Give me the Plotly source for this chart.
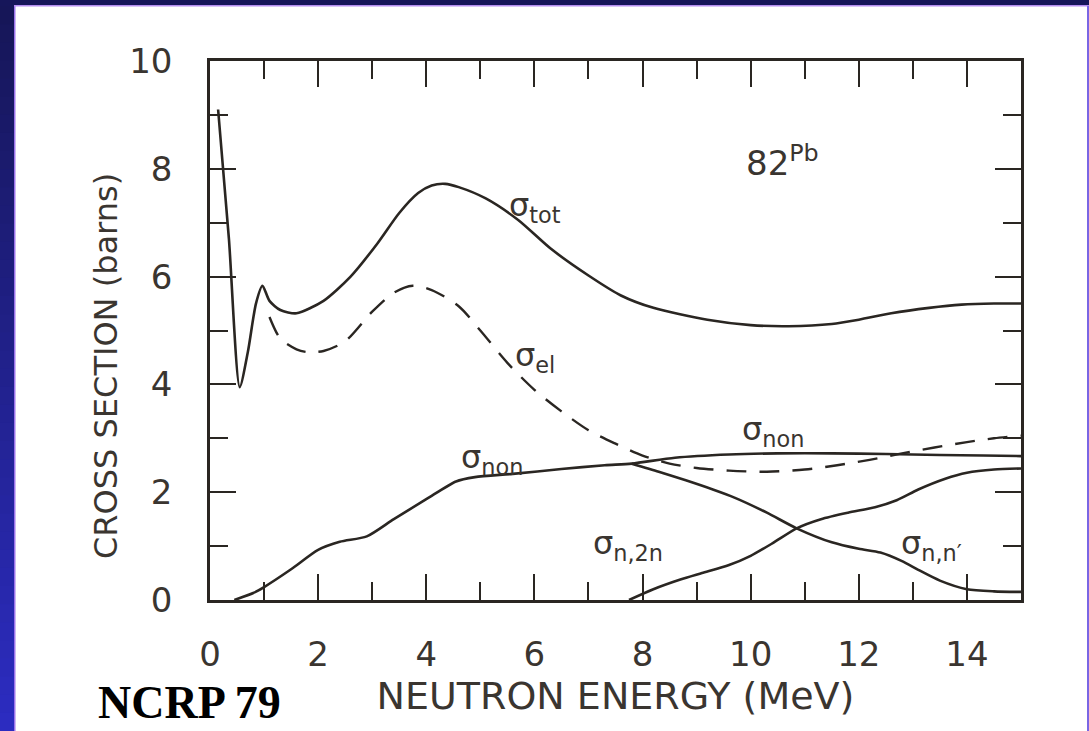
import plotly.graph_objects as go

# Neutron cross sections of lead (82Pb) versus neutron energy
energy_tot = [0.15, 0.35, 0.55, 0.7, 0.85, 0.97, 1.1, 1.3, 1.6, 2.1, 2.6, 3.1, 3.5, 3.85, 4.1, 4.35,
              4.6, 5.1, 5.7, 6.3, 7.0, 7.6, 8.2, 9.2, 10.0, 10.7, 11.5, 12.0, 12.6, 13.3, 13.9,
              14.5, 15.0]
sigma_tot = [9.1, 6.7, 3.95, 4.6, 5.5, 5.83, 5.55, 5.38, 5.32, 5.55, 6.0, 6.62, 7.18, 7.55, 7.69,
             7.72, 7.66, 7.45, 7.05, 6.52, 6.02, 5.65, 5.42, 5.2, 5.1, 5.08, 5.12, 5.2, 5.32, 5.42,
             5.48, 5.5, 5.5]

energy_el = [1.1, 1.3, 1.6, 1.8, 2.1, 2.5, 3.0, 3.4, 3.75, 4.1, 4.6, 5.0, 5.5, 6.0, 6.5, 7.0, 7.5,
             8.0, 8.5, 9.0, 9.6, 10.3, 11.0, 11.6, 12.2, 12.8, 13.4, 14.0, 14.5, 15.0]
sigma_el = [5.25, 4.85, 4.65, 4.6, 4.62, 4.8, 5.35, 5.7, 5.83, 5.75, 5.45, 5.0, 4.4, 3.9, 3.5, 3.15,
            2.9, 2.68, 2.53, 2.45, 2.4, 2.38, 2.42, 2.5, 2.6, 2.72, 2.83, 2.93, 3.0, 3.05]

energy_non = [0.45, 0.8, 1.0, 1.5, 2.0, 2.4, 2.9, 3.4, 4.0, 4.55, 4.9, 5.6, 6.5, 7.3, 7.8, 8.6,
              9.6, 10.5, 11.5, 12.5, 13.5, 14.3, 15.0]
sigma_non = [0.0, 0.13, 0.24, 0.57, 0.93, 1.08, 1.18, 1.5, 1.87, 2.2, 2.28, 2.34, 2.43, 2.5, 2.53,
             2.64, 2.7, 2.72, 2.72, 2.71, 2.69, 2.68, 2.67]

energy_nn = [7.8, 8.3, 8.8, 9.3, 9.7, 10.3, 10.85, 11.5, 12.0, 12.4, 12.8, 13.1, 13.5, 14.0, 14.5, 15.0]
sigma_nn = [2.53, 2.38, 2.22, 2.05, 1.9, 1.62, 1.33, 1.07, 0.95, 0.88, 0.72, 0.56, 0.36, 0.2, 0.16, 0.15]

energy_n2n = [7.75, 8.2, 8.7, 9.1, 9.6, 10.0, 10.4, 10.85, 11.3, 11.8, 12.3, 12.7, 13.1, 13.6,
              14.0, 14.5, 15.0]
sigma_n2n = [0.0, 0.2, 0.38, 0.5, 0.65, 0.82, 1.05, 1.33, 1.5, 1.62, 1.72, 1.85, 2.05, 2.25,
             2.36, 2.42, 2.44]

x_ticks = [0, 2, 4, 6, 8, 10, 12, 14]
y_ticks = [0, 2, 4, 6, 8, 10]

INK = "#2a2622"
TXT = "#3a3530"
FONT = "DejaVu Sans"

W, H = 1089, 731
ML, MR, MT, MB = 210, 68, 61, 131
PW, PH = W - ML - MR, H - MT - MB


def px(x):
    return (x - ML) / PW


def py(y):
    return (H - MB - y) / PH


fig = go.Figure()

line_style = dict(color=INK, width=2.6, shape="spline", smoothing=0.7)
fig.add_trace(go.Scatter(x=energy_tot, y=sigma_tot, mode="lines", line=line_style, name="tot"))
fig.add_trace(go.Scatter(x=energy_el, y=sigma_el, mode="lines",
                         line=dict(color=INK, width=2.4, shape="spline", smoothing=0.8,
                                   dash="20px,13px"), name="el"))
fig.add_trace(go.Scatter(x=energy_non, y=sigma_non, mode="lines", line=line_style, name="non"))
fig.add_trace(go.Scatter(x=energy_nn, y=sigma_nn, mode="lines", line=line_style, name="n,n'"))
fig.add_trace(go.Scatter(x=energy_n2n, y=sigma_n2n, mode="lines", line=line_style, name="n,2n"))

# Slide frame: navy border with a blue gradient strip on the left
shapes = []
shapes.append(dict(type="rect", xref="paper", yref="paper", x0=px(14), x1=px(1088),
                   y0=py(6), y1=py(731), fillcolor="white", line=dict(width=0), layer="below"))
n_steps = 40
c0, c1 = (22, 22, 88), (44, 44, 192)
for i in range(n_steps):
    t = i / (n_steps - 1)
    col = "rgb(%d,%d,%d)" % tuple(round(a + (b - a) * t) for a, b in zip(c0, c1))
    y0 = 6 + i * (725 / n_steps)
    shapes.append(dict(type="rect", xref="paper", yref="paper", x0=px(0), x1=px(14),
                       y0=py(y0), y1=py(y0 + 725 / n_steps + 1), fillcolor=col,
                       line=dict(width=0), layer="below"))
shapes.append(dict(type="rect", xref="paper", yref="paper", x0=px(14), x1=px(15.5),
                   y0=py(6), y1=py(731), fillcolor="#9c74ec", line=dict(width=0), layer="below"))
shapes.append(dict(type="rect", xref="paper", yref="paper", x0=px(14), x1=px(1089),
                   y0=py(5), y1=py(6.5), fillcolor="#b48ef0", line=dict(width=0), layer="below"))
shapes.append(dict(type="rect", xref="paper", yref="paper", x0=px(1087), x1=px(1089),
                   y0=py(6), y1=py(731), fillcolor="#7a66e4", line=dict(width=0), layer="below"))

sig_font = dict(family=FONT, size=32, color=TXT)
annotations = [
    dict(x=5.5, y=7.3, text="σ<sub>tot</sub>", xanchor="left", yanchor="middle"),
    dict(x=5.6, y=4.5, text="σ<sub>el</sub>", xanchor="left", yanchor="middle"),
    dict(x=4.6, y=2.62, text="σ<sub>non</sub>", xanchor="left", yanchor="middle"),
    dict(x=9.8, y=3.14, text="σ<sub>non</sub>", xanchor="left", yanchor="middle"),
    dict(x=7.05, y=1.02, text="σ<sub>n,2n</sub>", xanchor="left", yanchor="middle"),
    dict(x=12.75, y=1.02, text="σ<sub>n,n′</sub>", xanchor="left", yanchor="middle"),
]
for a in annotations:
    a.update(xref="x", yref="y", showarrow=False, font=sig_font)
annotations.append(dict(x=10.58, y=8.15, xref="x", yref="y", showarrow=False,
                        text="82<sup>Pb</sup>", xanchor="center", yanchor="middle",
                        font=dict(family=FONT, size=34, color=TXT)))
annotations.append(dict(x=px(96), y=py(702), xref="paper", yref="paper", showarrow=False,
                        text="<b>NCRP 79</b>", xanchor="left", yanchor="middle",
                        font=dict(family="Liberation Serif", size=46, color="#000000")))
# Vertical axis title, placed alongside the tick labels
annotations.append(dict(x=px(106), y=py(366), xref="paper", yref="paper", showarrow=False,
                        text="CROSS SECTION (barns)", textangle=-90,
                        xanchor="center", yanchor="middle",
                        font=dict(family=FONT, size=32, color=TXT)))

axis_common = dict(
    showline=True, linecolor=INK, linewidth=2.6, mirror="ticks",
    ticks="inside", tickcolor=INK, tickwidth=2, ticklen=26,
    showgrid=False, zeroline=False,
    tickfont=dict(family=FONT, size=34, color=TXT),
    minor=dict(ticks="inside", ticklen=18, tickwidth=2, tickcolor=INK, dtick=1, showgrid=False),
)

fig.update_layout(
    width=W, height=H,
    margin=dict(l=ML, r=MR, t=MT, b=MB),
    paper_bgcolor="#16165a", plot_bgcolor="rgba(0,0,0,0)",
    showlegend=False,
    shapes=shapes,
    annotations=annotations,
    xaxis=dict(axis_common, range=[0, 15], tickvals=x_ticks, ticktext=[str(v) for v in x_ticks],
               ticklabelstandoff=22,
               title=dict(text="NEUTRON ENERGY (MeV)", standoff=10,
                          font=dict(family=FONT, size=38, color=TXT))),
    yaxis=dict(axis_common, range=[0, 10], tickvals=y_ticks, ticktext=[str(v) for v in y_ticks],
               ticklabelstandoff=28),
)

fig.write_html("out.html")
